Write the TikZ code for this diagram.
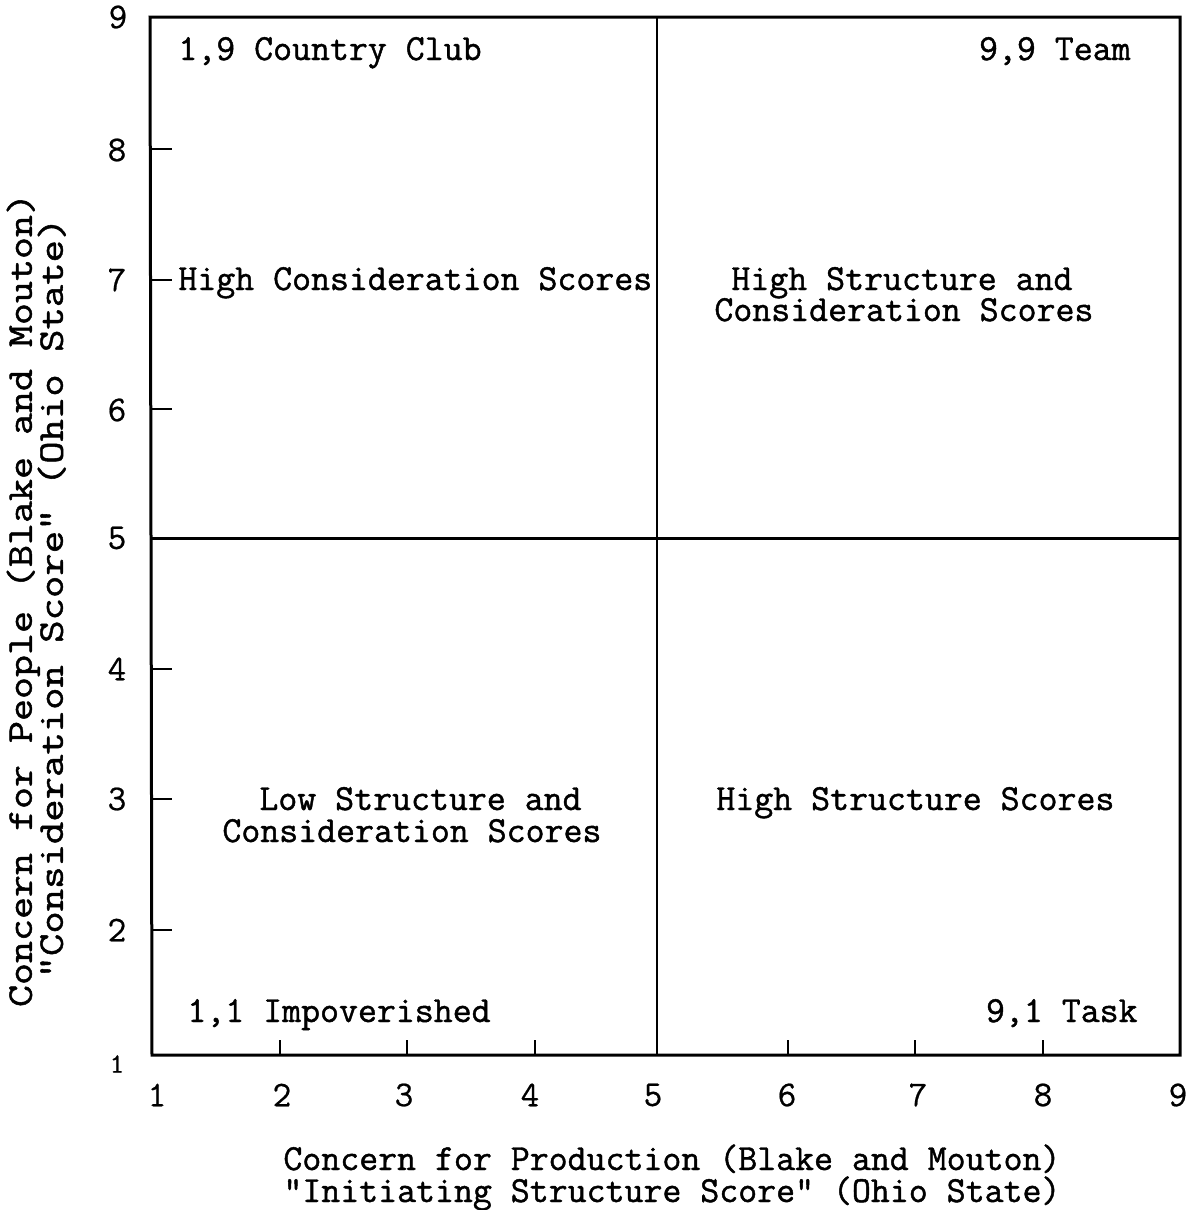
\documentclass[tikz,border=0pt]{standalone}
\usepackage{fontspec}
\newfontfamily\tw{Latin Modern Mono}[FakeBold=1.2]
\newfontfamily\twn{Latin Modern Mono}[FakeBold=0.6]
\begin{document}
\begin{tikzpicture}[x=0.5pt,y=-0.5pt,
  axisline/.style={line width=1.5pt,black},
  midline/.style={line width=1.2pt,black},
  tickline/.style={line width=1.1pt,black},
  lbl/.style={inner sep=0pt,text height=0.62em,text depth=0.14em,font=\tw\fontsize{18.4}{20}\selectfont},
  num/.style={inner sep=0pt,font=\twn\fontsize{18.1}{20}\selectfont},
  ttl/.style={inner sep=0pt,text height=0.62em,text depth=0.14em,font=\tw\fontsize{18.1}{20}\selectfont}]
\useasboundingbox (0,0) rectangle (1194,1210);
% frame corners
\coordinate (tl) at (150,17);
\coordinate (tr) at (1180,17);
\coordinate (bl) at (152,1055);
\coordinate (br) at (1180,1055);
\coordinate (mt) at (657,17);
\coordinate (mb) at (657,1055);
\coordinate (ml) at (150,538);
\coordinate (mr) at (1180,538);
\draw[axisline] (tl) -- (tr) -- (br) -- (bl) -- cycle;
\draw[midline] (mt) -- (mb);
\draw[axisline] (ml) -- (mr);
% y ticks
\foreach \yy in {149,280,409,669,799,930}{
  \draw[tickline] (151,\yy) -- (172,\yy);
}
% x ticks
\foreach \xx in {280,407,535,788,915,1043}{
  \draw[tickline] (\xx,1055) -- (\xx,1040);
}
% y numbers
\node[num] (y9) at (118,17) {9};
\node[num] (y8) at (117,150) {8};
\node[num] (y7) at (117,280) {7};
\node[num] (y6) at (117,410) {6};
\node[num] (y5) at (117,538) {5};
\node[num] (y4) at (117,669) {4};
\node[num] (y3) at (117,799) {3};
\node[num] (y2) at (117,930) {2};
\node[num,font=\twn\fontsize{14}{16}\selectfont] (y1) at (117,1064) {1};
% x numbers
\node[num] (x1) at (157,1095) {1};
\node[num] (x2) at (282,1095) {2};
\node[num] (x3) at (404,1095) {3};
\node[num] (x4) at (530,1095) {4};
\node[num] (x5) at (653,1095) {5};
\node[num] (x6) at (787,1095) {6};
\node[num] (x7) at (918,1095) {7};
\node[num] (x8) at (1043,1095) {8};
\node[num] (x9) at (1178,1095) {9};
% quadrant texts
\node[lbl,anchor=base west] (cc) at (178,60) {1,9 Country Club};
\node[lbl,anchor=base east] (team) at (1131,60) {9,9 Team};
\node[lbl,anchor=base west] (hc) at (178,290) {High Consideration Scores};
\node[lbl,anchor=base west] (hs1) at (731,290) {High Structure and};
\node[lbl,anchor=base west] (hs2) at (714,321) {Consideration Scores};
\node[lbl,anchor=base west] (ls1) at (259,810) {Low Structure and};
\node[lbl,anchor=base west] (ls2) at (222,842) {Consideration Scores};
\node[lbl,anchor=base west] (hss) at (716,810) {High Structure Scores};
\node[lbl,anchor=base west] (imp) at (187,1022) {1,1 Impoverished};
\node[lbl,anchor=base east] (task) at (1138,1022) {9,1 Task};
% axis titles
\node[lbl,anchor=base west] (xt1) at (283,1170) {Concern for Production (Blake and Mouton)};
\node[lbl,anchor=base west] (xt2) at (283,1202) {"Initiating Structure Score" (Ohio State)};
\node[ttl,rotate=90] (yt1) at (27,600) {\scalebox{1.18}[1]{Concern for People (Blake and Mouton)}};
\node[ttl,rotate=90] (yt2) at (58,598) {\scalebox{1.2}[1]{"Consideration Score" (Ohio State)}};
\end{tikzpicture}
\end{document}
